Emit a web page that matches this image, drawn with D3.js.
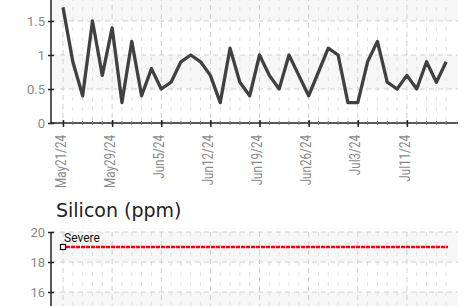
<!DOCTYPE html>
<html>
<head>
<meta charset="utf-8">
<script src="https://cdn.jsdelivr.net/npm/d3@7"></script>
<style>
  body { margin: 0; background: #fff; }
  svg { display: block; }
  .axis text { font-family: "Roboto", sans-serif; fill: #8a8a8a; }
</style>
</head>
<body>
<div id="chart"></div>
<script>
(function() {
"use strict"

var width = 466, height = 306;

// sample dates (one per reading), only every 5th gets a label
var dates = ["May21/24","May22/24","May23/24","May24/24","May28/24",
             "May29/24","May30/24","May31/24","Jun3/24","Jun4/24",
             "Jun5/24","Jun6/24","Jun7/24","Jun10/24","Jun11/24",
             "Jun12/24","Jun13/24","Jun14/24","Jun17/24","Jun18/24",
             "Jun19/24","Jun20/24","Jun21/24","Jun24/24","Jun25/24",
             "Jun26/24","Jun27/24","Jun28/24","Jul1/24","Jul2/24",
             "Jul3/24","Jul5/24","Jul8/24","Jul9/24","Jul10/24",
             "Jul11/24","Jul12/24","Jul15/24","Jul16/24","Jul17/24"];
var tickLabels = ["May21/24","May29/24","Jun5/24","Jun12/24","Jun19/24","Jun26/24","Jul3/24","Jul11/24"];

// upper chart readings
var topValues = [1.7,0.9,0.4,1.5,0.7,1.4,0.3,1.2,0.4,0.8,
                 0.5,0.6,0.9,1.0,0.9,0.7,0.3,1.1,0.6,0.4,
                 1.0,0.7,0.5,1.0,0.7,0.4,0.75,1.1,1.0,0.3,
                 0.3,0.9,1.2,0.6,0.5,0.7,0.5,0.9,0.6,0.9];
var topTicks = [0,0.5,1,1.5];

// silicon chart: severe limit
var siliconTitle = "Silicon (ppm)";
var severeLimit = 19;
var severeLabel = "Severe";
var siliconTicks = [20,18,16];

var svg = d3.select("#chart").append("svg")
    .attr("width",width)
    .attr("height",height);

var plotLeft = 51, plotRight = 458;

var x = d3.scalePoint()
    .domain(dates)
    .range([63,446.2]);

function drawPanel(g, y, yTicks, bandStep, top, bottom) {
    // alternating background bands
    var lo = y.domain()[0], hi = y.domain()[1];
    for (var v = lo; v < hi; v += bandStep) {
        var idx = Math.round((v - lo)/bandStep);
        if (idx % 2 === 1) {
            g.append("rect")
                .attr("x",plotLeft)
                .attr("width",plotRight-plotLeft)
                .attr("y",y(v+bandStep))
                .attr("height",y(v)-y(v+bandStep))
                .style("fill","#f7f7f7");
        }
    }
    // minor vertical grid
    g.append("g").selectAll("line")
        .data(dates.filter(function(d){ return tickLabels.indexOf(d) < 0; }))
        .enter().append("line")
        .attr("x1",function(d){ return x(d); })
        .attr("x2",function(d){ return x(d); })
        .attr("y1",top).attr("y2",bottom)
        .style("stroke","#e2e2e2")
        .style("stroke-dasharray","4,6");
    // major vertical grid
    g.append("g").selectAll("line")
        .data(tickLabels)
        .enter().append("line")
        .attr("x1",function(d){ return x(d); })
        .attr("x2",function(d){ return x(d); })
        .attr("y1",top).attr("y2",bottom)
        .style("stroke","#cfcfcf")
        .style("stroke-dasharray","5,4");
    // horizontal grid
    g.append("g").selectAll("line")
        .data(yTicks.filter(function(d){ return d !== lo; }))
        .enter().append("line")
        .attr("x1",plotLeft).attr("x2",plotRight)
        .attr("y1",function(d){ return y(d); })
        .attr("y2",function(d){ return y(d); })
        .style("stroke","#d0d0d0")
        .style("stroke-dasharray","5,4");
    // y axis
    var ya = g.append("g")
        .attr("class","axis")
        .attr("transform","translate(" + plotLeft + ",0)")
        .call(d3.axisLeft(y).tickValues(yTicks).tickFormat(d3.format("~g")).tickSize(3));
    ya.select(".domain").remove();
    ya.append("line")
        .attr("x1",0).attr("x2",0)
        .attr("y1",top).attr("y2",bottom)
        .style("stroke","#222").style("stroke-width",1.5);
    ya.selectAll(".tick line").attr("x1",-3).attr("x2",3).style("stroke","#222").style("stroke-width",1.5);
    ya.selectAll(".tick text").attr("x",-6).style("font-size","13px");
}

// ---------- upper chart ----------
var y1 = d3.scaleLinear().domain([0,2]).range([123,-13]);
var g1 = svg.append("g");
drawPanel(g1, y1, topTicks, 0.5, -13, 123);

// x axis with minor ticks at every reading
var xa = g1.append("g")
    .attr("class","axis")
    .attr("transform","translate(0,123)");
xa.append("line")
    .attr("x1",plotLeft).attr("x2",plotRight)
    .style("stroke","#222").style("stroke-width",1.5);
xa.selectAll(".minor")
    .data(dates)
    .enter().append("line")
    .attr("x1",function(d){ return x(d); })
    .attr("x2",function(d){ return x(d); })
    .attr("y1",-2).attr("y2",2)
    .style("stroke","#777");
xa.append("g").call(d3.axisBottom(x).tickValues(tickLabels).tickSize(4))
    .call(function(s){
        s.select(".domain").remove();
        s.selectAll(".tick line").attr("y1",-3).attr("y2",4).style("stroke","#222").style("stroke-width",1.5);
        var labels = s.selectAll(".tick text")
            .attr("x",0).attr("y",0).attr("dy","0.15em")
            .style("text-anchor","end")
            .style("font-size","14px");
        // squeeze labels to the narrow face of the original
        var k = 53 / labels.node().getComputedTextLength();
        labels.attr("transform","rotate(-90) translate(-12,0) scale(" + k + ",1)");
    });

var line = d3.line()
    .x(function(d,i){ return x(dates[i]); })
    .y(function(d){ return y1(d); });

g1.append("path")
    .datum(topValues)
    .attr("d",line)
    .style("fill","none")
    .style("stroke","#404040")
    .style("stroke-width",3.3)
    .style("stroke-linejoin","round");

// ---------- silicon chart ----------
svg.append("text")
    .attr("x",56).attr("y",217)
    .style("font-family","'DejaVu Sans', sans-serif")
    .style("font-size","19px")
    .style("fill","#222")
    .text(siliconTitle);

var y2 = d3.scaleLinear().domain([0,20]).range([532,232]);
var g2 = svg.append("g");
drawPanel(g2, y2, siliconTicks, 2, 232, 532);

g2.append("line")
    .attr("x1",x(dates[0])+3).attr("x2",448)
    .attr("y1",y2(severeLimit)).attr("y2",y2(severeLimit))
    .style("stroke","#ff0000")
    .style("stroke-width",2.5)
    .style("stroke-dasharray","4,1");
g2.append("rect")
    .attr("x",x(dates[0])-2.5).attr("y",y2(severeLimit)-2.5)
    .attr("width",5).attr("height",5)
    .style("fill","#fff").style("stroke","#111").style("stroke-width",1.2);
g2.append("text")
    .attr("x",x(dates[0])+1).attr("y",y2(severeLimit)-5)
    .style("font-family","'Roboto', sans-serif")
    .style("font-size","12px")
    .style("fill","#111")
    .text(severeLabel);

})();
</script>
</body>
</html>
